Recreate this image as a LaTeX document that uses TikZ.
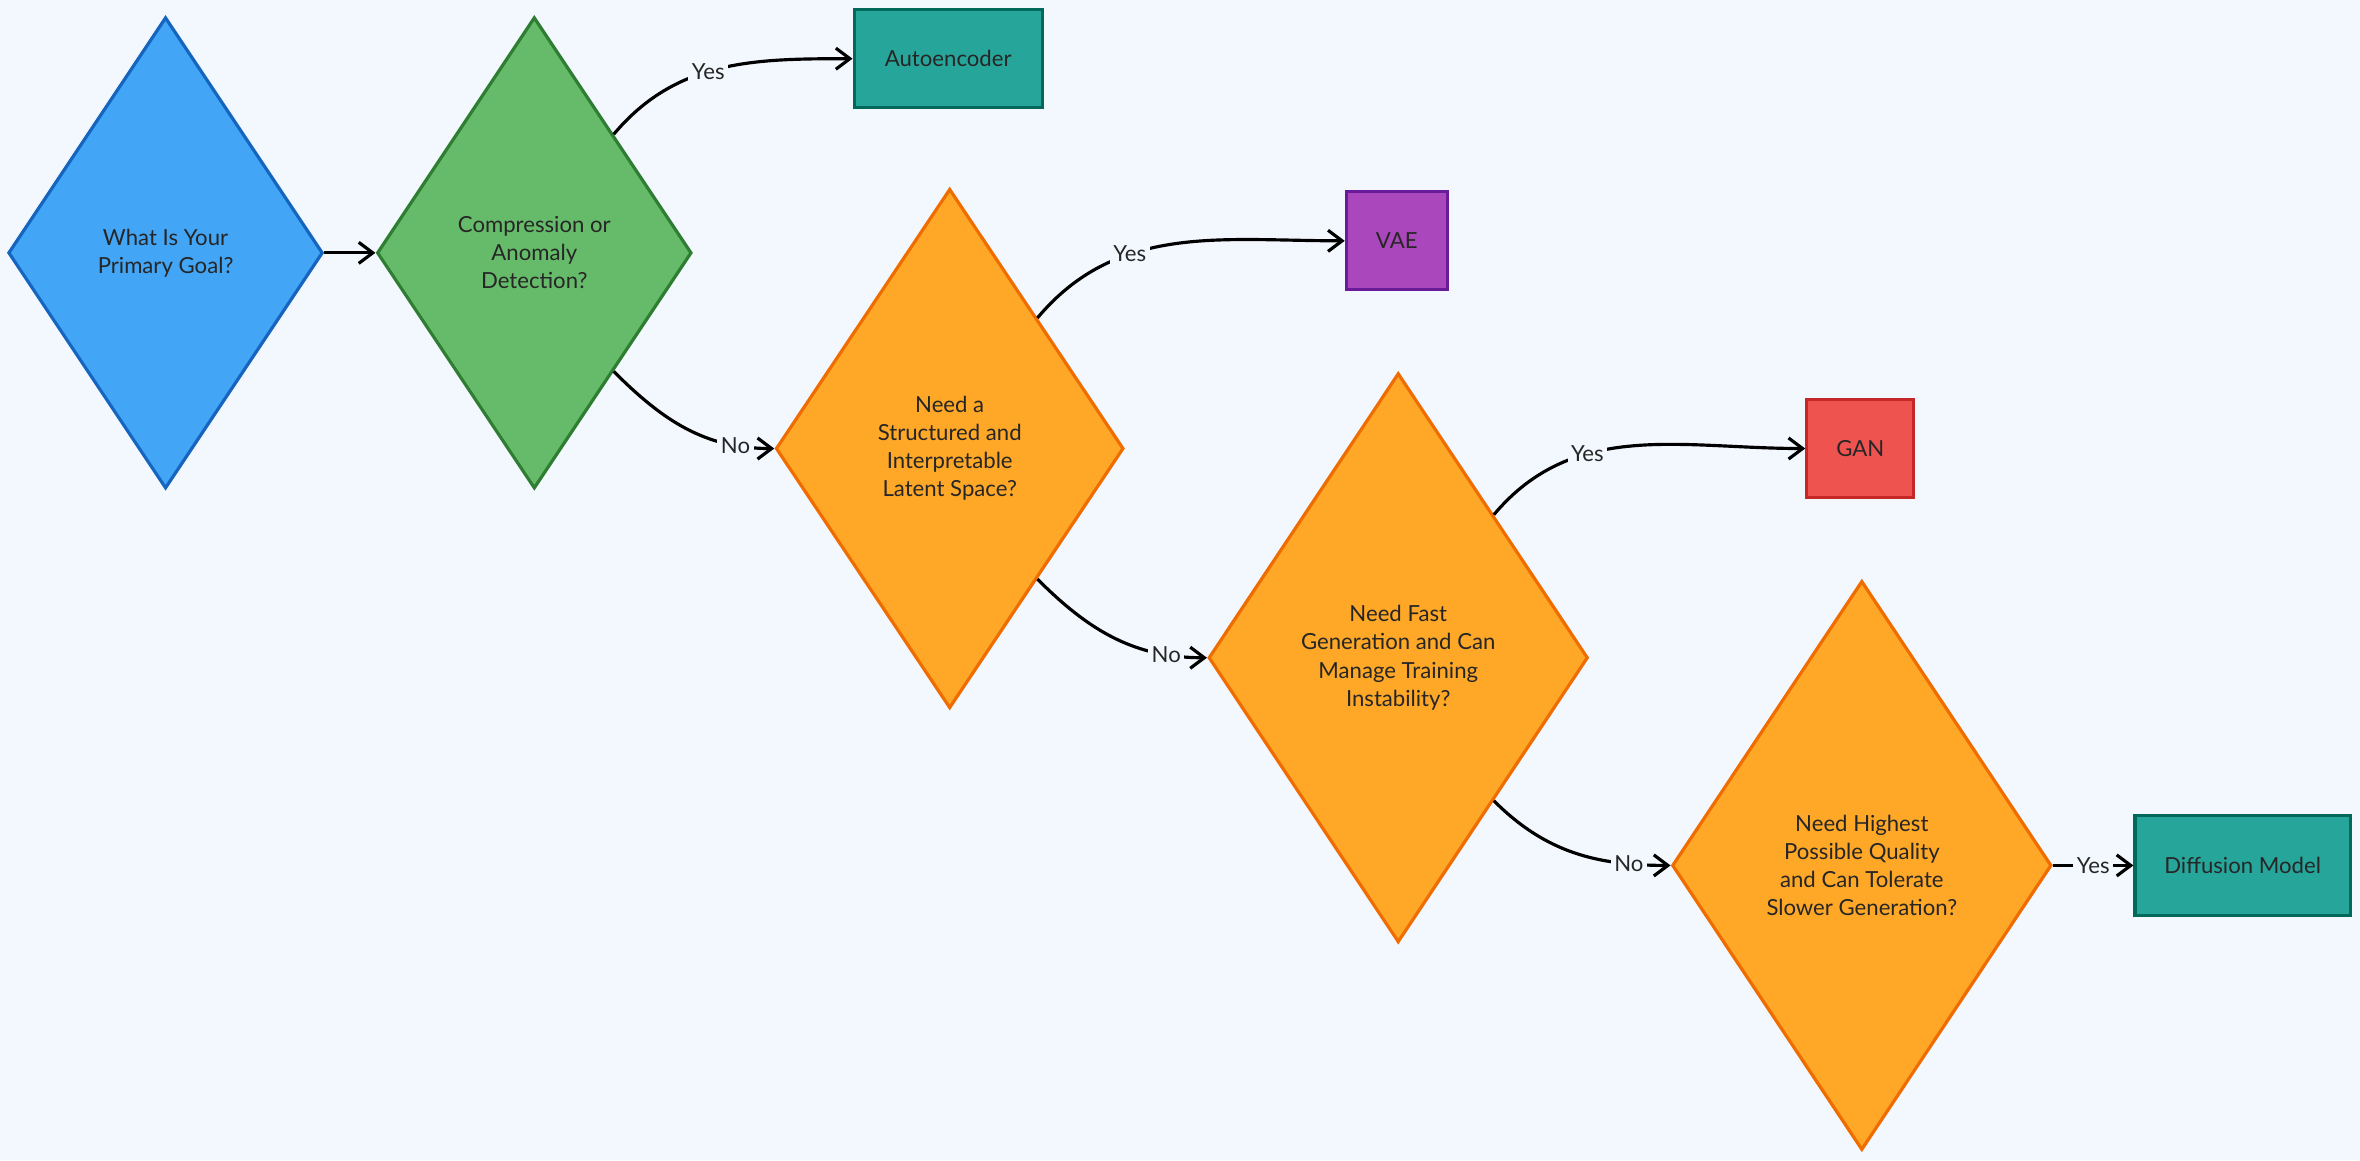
\documentclass[tikz,border=0pt]{standalone}
\usepackage{fontspec}
\setmainfont{Lato}
\usetikzlibrary{shapes.geometric,arrows.meta}
\definecolor{bg}{HTML}{F3F8FE}
\definecolor{blueF}{HTML}{42A5F5}\definecolor{blueD}{HTML}{1565C0}
\definecolor{greenF}{HTML}{66BB6A}\definecolor{greenD}{HTML}{2E7D32}
\definecolor{orangeF}{HTML}{FFA726}\definecolor{orangeD}{HTML}{EF6C00}
\definecolor{tealF}{HTML}{26A69A}\definecolor{tealD}{HTML}{00695C}
\definecolor{purpleF}{HTML}{AB47BC}\definecolor{purpleD}{HTML}{6A1B9A}
\definecolor{redF}{HTML}{EF5350}\definecolor{redD}{HTML}{C62828}
\begin{document}
\begin{tikzpicture}[x=0.01505cm,y=-0.01505cm,->,>={Straight Barb[length=4pt,width=6pt]},
  thick,line width=0.9pt,
  dec node/.style={diamond,draw,inner sep=0pt,align=center,font=\fontsize{6.3}{8}\selectfont,text=black!85},
  small dec/.style={dec node,minimum width=3.145cm,minimum height=4.711cm},
  mid dec/.style={dec node,minimum width=3.477cm,minimum height=5.192cm},
  big dec/.style={dec node,minimum width=3.793cm,minimum height=5.689cm},
  out node/.style={rectangle,draw,inner sep=0pt,font=\fontsize{6.3}{8}\selectfont,text=black!85},
  lbl/.style={fill=bg,inner sep=1pt,font=\fontsize{6.3}{8}\selectfont,text=black!85}]

  \fill[bg] (0,0) rectangle (1568,771);
  \useasboundingbox (0,0) rectangle (1568,771);

  \node[small dec,fill=blueF,draw=blueD] (goal) at (110,168) {What Is Your\\Primary Goal?};
  \node[small dec,fill=greenF,draw=greenD] (compress) at (355,168) {Compression or\\Anomaly\\Detection?};
  \node[mid dec,fill=orangeF,draw=orangeD] (latent) at (631,298) {Need a\\Structured and\\Interpretable\\Latent Space?};
  \node[big dec,fill=orangeF,draw=orangeD] (fast) at (929,437) {Need Fast\\Generation and Can\\Manage Training\\Instability?};
  \node[big dec,fill=orangeF,draw=orangeD] (quality) at (1237,575) {Need Highest\\Possible Quality\\and Can Tolerate\\Slower Generation?};

  \node[out node,fill=tealF,draw=tealD,minimum width=1.881cm,minimum height=0.978cm] (ae) at (630,39) {Autoencoder};
  \node[out node,fill=purpleF,draw=purpleD,minimum width=1.008cm,minimum height=0.978cm] (vae) at (928,160) {VAE};
  \node[out node,fill=redF,draw=redD,minimum width=1.069cm,minimum height=0.978cm] (gan) at (1236,298) {GAN};
  \node[out node,fill=tealF,draw=tealD,minimum width=2.152cm,minimum height=0.993cm] (diff) at (1490,575) {Diffusion Model};

  \draw (goal.east) -- (compress.west);
  \draw (compress.north east) to[out=50,in=180] node[lbl,pos=0.45]{Yes} (ae.west);
  \draw (compress.south east) to[out=-45,in=180] node[lbl,pos=0.8]{No} (latent.west);
  \draw (latent.north east) to[out=50,in=180] node[lbl,pos=0.35]{Yes} (vae.west);
  \draw (latent.south east) to[out=-45,in=180] node[lbl,pos=0.8]{No} (fast.west);
  \draw (fast.north east) to[out=50,in=180] node[lbl,pos=0.35]{Yes} (gan.west);
  \draw (fast.south east) to[out=-45,in=180] node[lbl,pos=0.8]{No} (quality.west);
  \draw (quality.east) -- node[lbl]{Yes} (diff.west);

\end{tikzpicture}
\end{document}
